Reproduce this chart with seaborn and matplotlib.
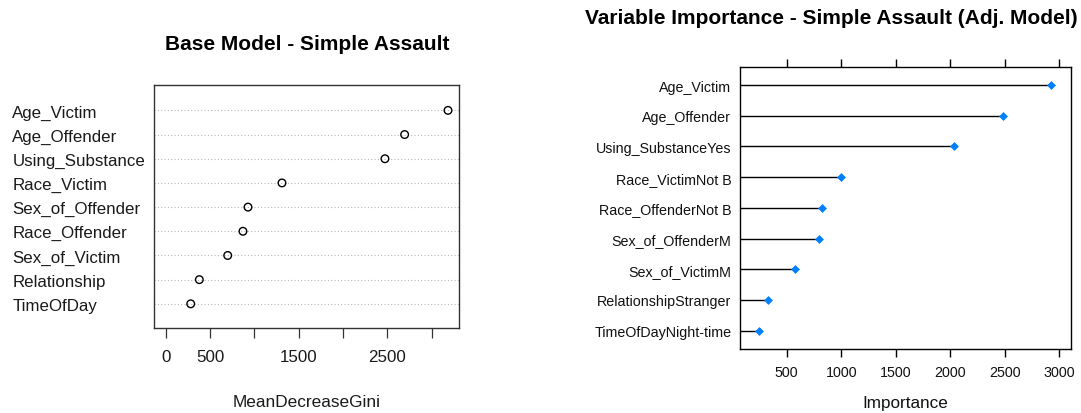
import matplotlib
matplotlib.use("Agg")
import matplotlib.pyplot as plt
import seaborn as sns
import pandas as pd
import numpy as np

# ---- data ----
base_vars = ["Age_Victim", "Age_Offender", "Using_Substance", "Race_Victim",
             "Sex_of_Offender", "Race_Offender", "Sex_of_Victim", "Relationship", "TimeOfDay"]
base_gini = [3183, 2694, 2472, 1311, 928, 871, 699, 379, 282]
base_ticks = [0, 500, 1000, 1500, 2000, 2500, 3000]
base_ticklabels = ["0", "500", "", "1500", "", "2500", ""]

adj_vars = ["Age_Victim", "Age_Offender", "Using_SubstanceYes", "Race_VictimNot B",
            "Race_OffenderNot B", "Sex_of_OffenderM", "Sex_of_VictimM",
            "RelationshipStranger", "TimeOfDayNight-time"]
adj_imp = [2920, 2483, 2034, 998, 821, 799, 579, 332, 249]
adj_ticks = [500, 1000, 1500, 2000, 2500, 3000]
adj_ticklabels = ["500", "1000", "1500", "2000", "2500", "3000"]

sns.set_style("white")
plt.rcParams["font.family"] = ["Liberation Sans", "DejaVu Sans"]

fig = plt.figure(figsize=(10.81, 4.14), dpi=100)
W, H = 1081, 414

def rect(l, t, r, b):
    return [l / W, 1 - b / H, (r - l) / W, (b - t) / H]

# ---- left panel: base model dotchart ----
ax1 = fig.add_axes(rect(154, 86, 459, 329))
df1 = pd.DataFrame({"var": base_vars, "val": base_gini})
df1["pos"] = np.arange(len(base_vars), 0, -1)
sns.scatterplot(data=df1, x="val", y="pos", ax=ax1, marker="o", s=30,
                facecolor="none", edgecolor="black", linewidth=1.0, zorder=3)
ax1.set_xlim(-132, 3307)
ax1.set_ylim(0, 10.05)
ax1.set_yticks(df1["pos"])
ax1.set_yticklabels(df1["var"], ha="left", fontsize=12.2, color="#1a1a1a")
ax1.tick_params(axis="y", length=0, pad=102)
ax1.yaxis.grid(True, linestyle=(0, (1, 2)), color="#b8b8b8", linewidth=0.8)
ax1.xaxis.grid(False)
ax1.set_xticks(base_ticks)
ax1.set_xticklabels(base_ticklabels, fontsize=12.2, color="#1a1a1a")
ax1.tick_params(axis="x", length=7.2, width=0.9, direction="out", pad=8,
                color="#333333", bottom=True)
for sp in ax1.spines.values():
    sp.set_visible(True)
    sp.set_color("#333333")
    sp.set_linewidth(1.0)
ax1.set_ylabel("")
ax1.set_xlabel("MeanDecreaseGini", fontsize=12.4, color="#1a1a1a", va="center")
ax1.xaxis.set_label_coords(0.5, (329 - 403) / (329 - 86))
fig.text(307 / W, 1 - 45 / H, "Base Model - Simple Assault", ha="center",
         va="center", fontsize=15, fontweight="bold", color="black")

# ---- right panel: caret varImp lollipop ----
ax2 = fig.add_axes(rect(740.3, 67.7, 1070.7, 350))
df2 = pd.DataFrame({"var": adj_vars, "val": adj_imp})
df2["pos"] = np.arange(len(adj_vars), 0, -1)
xmin2 = 75
ax2.hlines(df2["pos"], xmin2, df2["val"], color="black", linewidth=1.0, zorder=2)
sns.scatterplot(data=df2, x="val", y="pos", ax=ax2, marker="D", s=16,
                color="#0080ff", edgecolor="#0080ff", linewidth=0.5, zorder=3)
ax2.set_xlim(xmin2, 3103)
ax2.set_ylim(0.4, 9.6)
ax2.set_yticks(df2["pos"])
ax2.set_yticklabels(df2["var"], fontsize=10.3, color="#111111")
ax2.tick_params(axis="y", length=0, pad=6.5)
ax2.set_xticks(adj_ticks)
ax2.set_xticklabels(adj_ticklabels, fontsize=10.3, color="#111111")
ax2.tick_params(axis="x", length=5.8, width=1.0, direction="out", pad=6,
                top=True, bottom=True, labeltop=False, color="black")
for sp in ax2.spines.values():
    sp.set_visible(True)
    sp.set_color("black")
    sp.set_linewidth(1.0)
ax2.grid(False)
ax2.set_ylabel("")
ax2.set_xlabel("Importance", fontsize=12.3, color="#111111", va="center")
ax2.xaxis.set_label_coords(0.5, (350 - 404) / (350 - 67.7))
fig.text(831.7 / W, 1 - 18.3 / H, "Variable Importance - Simple Assault (Adj. Model)",
         ha="center", va="center", fontsize=15, fontweight="bold", color="black")

fig.savefig("out.png", dpi=100)
